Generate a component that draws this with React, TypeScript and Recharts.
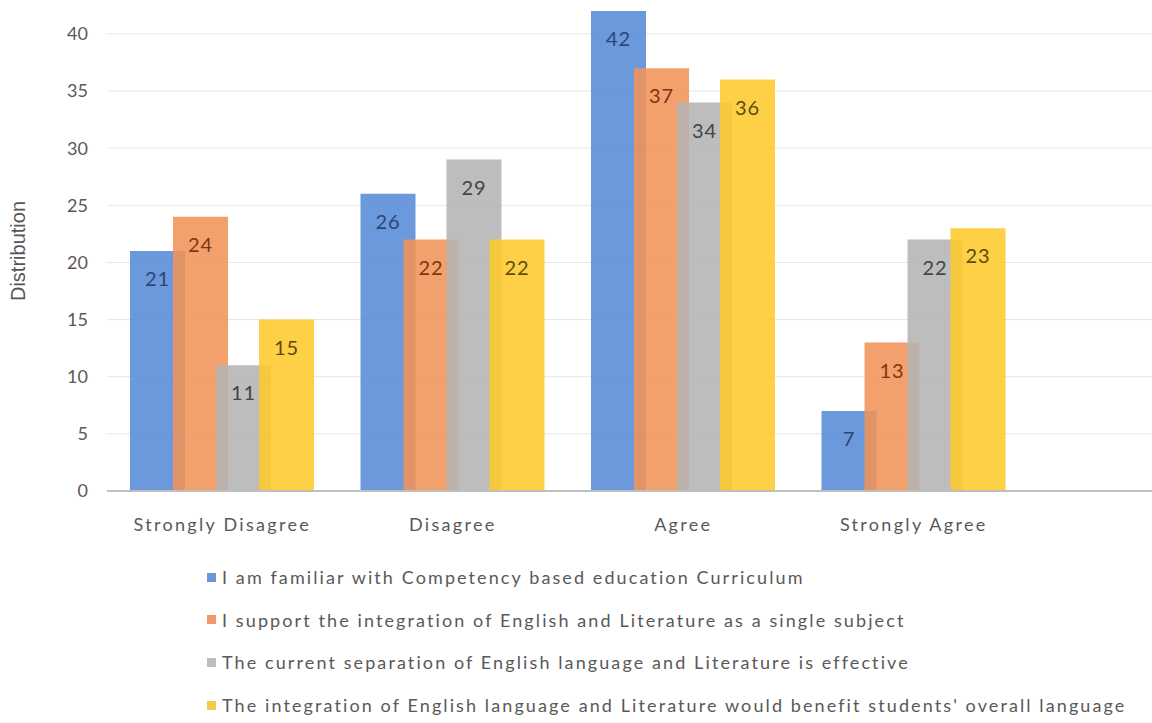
import {
  Bar,
  BarChart,
  CartesianGrid,
  LabelList,
  Legend,
  XAxis,
  YAxis,
} from "recharts";

const categories = ["Strongly Disagree", "Disagree", "Agree", "Strongly Agree"];

const familiar = [21, 26, 42, 7];
const supportIntegration = [24, 22, 37, 13];
const separationEffective = [11, 29, 34, 22];
const integrationBenefit = [15, 22, 36, 23];

const yTicks = [0, 5, 10, 15, 20, 25, 30, 35, 40];
const yMax = 42;

const seriesNames = [
  "I am familiar with Competency based education Curriculum",
  "I support the integration of English and Literature as a single subject",
  "The current separation of English language and Literature is effective",
  "The integration of English language and Literature would benefit students' overall language",
];

const data = categories.map((category, i) => ({
  category,
  familiar: familiar[i],
  supportIntegration: supportIntegration[i],
  separationEffective: separationEffective[i],
  integrationBenefit: integrationBenefit[i],
}));

const FONT = "Lato, 'Open Sans', sans-serif";

const series = [
  { key: "familiar", name: seriesNames[0], fill: "#588AD7", swatch: "#6A96DA", label: "#2D4675" },
  { key: "supportIntegration", name: seriesNames[1], fill: "#F09358", swatch: "#EE9A6B", label: "#7E3612" },
  { key: "separationEffective", name: seriesNames[2], fill: "#B4B4B4", swatch: "#BDBDBD", label: "#444444" },
  { key: "integrationBenefit", name: seriesNames[3], fill: "#FDCA2B", swatch: "#F3CB4A", label: "#5E4B0C" },
];

function LegendList() {
  return (
    <div style={{ paddingTop: 5, paddingLeft: 207, textAlign: "left" }}>
      {series.map((s) => (
        <div
          key={s.key}
          style={{
            display: "flex",
            alignItems: "center",
            height: 42.6,
            whiteSpace: "nowrap",
            fontFamily: FONT,
            fontSize: 18,
            letterSpacing: 2.1,
            color: "#595959",
          }}
        >
          <span
            style={{
              display: "inline-block",
              width: 9,
              height: 9,
              background: s.swatch,
              marginRight: 6,
            }}
          />
          {s.name}
        </div>
      ))}
    </div>
  );
}

// gridlines only at the labelled ticks, none along the top edge of the plot
const gridRows = (props: any) => {
  const scale = props?.yAxis?.scale;
  if (typeof scale === "function") {
    const pts = yTicks.map((t) => scale(t));
    if (pts.every((p) => Number.isFinite(p))) return pts;
  }
  const off = props?.offset;
  if (off && Number.isFinite(off.top) && Number.isFinite(off.height)) {
    return yTicks.map((t) => off.top + off.height * (1 - t / yMax));
  }
  return [];
};

export default function App() {
  return (
    <div style={{ position: "absolute", left: 0, top: 0, background: "#fff" }}>
      <BarChart
        width={1152}
        height={723}
        data={data}
        margin={{ top: 11, right: 0, left: 0, bottom: 0 }}
        barSize={55}
        barGap={-12}
      >
        <CartesianGrid
          vertical={false}
          horizontalCoordinatesGenerator={gridRows}
          stroke="#E6E6E6"
          strokeWidth={1}
        />
        <XAxis
          dataKey="category"
          height={60}
          padding={{ left: 0, right: 123 }}
          tickLine={false}
          tickSize={0}
          tickMargin={27}
          axisLine={{ stroke: "#BFBFBF", strokeWidth: 2 }}
          tick={{ fill: "#595959", fontSize: 18, fontFamily: FONT, letterSpacing: 2.3 }}
        />
        <YAxis
          width={107}
          domain={[0, yMax]}
          ticks={yTicks}
          allowDataOverflow
          axisLine={false}
          tickLine={false}
          tickSize={0}
          tickMargin={19}
          tick={{ fill: "#595959", fontSize: 18, fontFamily: FONT }}
          label={{
            value: "Distribution",
            angle: -90,
            position: "insideLeft",
            offset: 18,
            style: {
              textAnchor: "middle",
              fontSize: 20,
              fill: "#555555",
              fontFamily: "'Liberation Sans', Arial, sans-serif",
            },
          }}
        />
        <Legend
          verticalAlign="bottom"
          layout="horizontal"
          align="left"
          wrapperStyle={{ left: 0, width: 1152, height: 172 }}
          content={() => <LegendList />}
        />
        {series.map((s) => (
          <Bar
            key={s.key}
            dataKey={s.key}
            name={s.name}
            fill={s.fill}
            fillOpacity={0.88}
            isAnimationActive={false}
          >
            <LabelList
              dataKey={s.key}
              position="insideTop"
              offset={21}
              fill={s.label}
              fontSize={20}
              fontFamily={FONT}
              letterSpacing={1}
            />
          </Bar>
        ))}
      </BarChart>
    </div>
  );
}
